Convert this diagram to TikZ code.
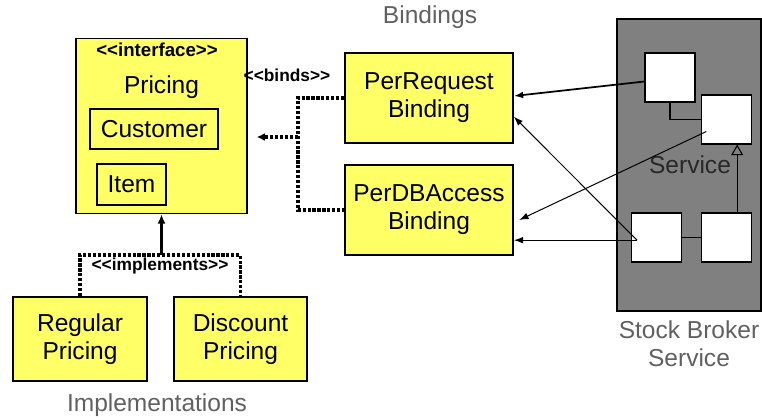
\documentclass[tikz,border=0pt]{standalone}
\usepackage{fontspec}
\setmainfont{Liberation Sans}
\usetikzlibrary{arrows.meta}
\usetikzlibrary{positioning}
\definecolor{umlyellow}{RGB}{255,255,102}
\definecolor{brokergray}{RGB}{128,128,128}
\definecolor{labelgray}{RGB}{96,96,96}

\tikzset{
  box/.style={draw, line width=1.2pt, fill=umlyellow, align=center,
    font=\fontsize{18.4}{21}\selectfont, inner sep=0pt},
  part/.style={draw, fill=white, line width=0.8pt, minimum width=37.5pt,
    minimum height=36.75pt, inner sep=0pt},
  dotline/.style={line width=2.4pt, dash pattern=on 2.4pt off 1.3pt},
  stereo/.style={font=\fontsize{13}{15}\selectfont\bfseries, inner sep=0pt},
  grouplabel/.style={text=labelgray, align=center, font=\fontsize{18.4}{21}\selectfont},
  callarrow/.style={line width=0.75pt, -{Latex[length=7pt,width=5pt]}},
}

\begin{document}
\begin{tikzpicture}[x=0.75pt, y=-0.75pt]
  \useasboundingbox (0,0) rectangle (762,419);

  % Interface
  \node[box, minimum width=128.25pt, minimum height=131.25pt] (pricing) at (161.5,126) {};
  \node[stereo, font=\fontsize{14}{16}\selectfont\bfseries] (iface) at (157,50) {<{}<interface>{}>};
  \node[font=\fontsize{18.4}{21}\selectfont] (pname) at (161.5,87) {Pricing};
  \node[box, minimum width=96pt, minimum height=30pt] (customer) at (154,129) {Customer};
  \node[box, minimum width=51.75pt, minimum height=30.75pt] (item) at (131.5,184.5) {Item};

  % Implementations
  \node[box, minimum width=100.5pt, minimum height=63pt] (regular) at (80,339) {Regular\\Pricing};
  \node[box, minimum width=100pt, minimum height=63pt] (discount) at (240.5,339) {Discount\\Pricing};
  \coordinate (impljoin) at (161.5,255);
  \draw[dotline] (regular.north) |- (impljoin) -| (discount.north);
  \draw[line width=2.4pt, -{Latex[length=7pt,width=6pt]}] (impljoin) -- (pricing.south);
  \node[stereo] (impl) at (160,266) {<{}<implements>{}>};
  \node[grouplabel] (impltext) at (157,405) {Implementations};

  % Bindings
  \node[box, minimum width=126pt, minimum height=67.5pt] (perreq) at (429,98) {PerRequest\\Binding};
  \node[box, minimum width=126pt, minimum height=67.5pt] (perdb) at (429,210) {PerDBAccess\\Binding};
  \node[grouplabel] (bindtext) at (430,17) {Bindings};
  \coordinate (bindjoin) at (298,137);
  \draw[dotline] (perreq.west) -| (bindjoin) |- (perdb.west);
  \draw[dotline, -{Latex[length=6pt,width=6pt]}] (bindjoin) -- ([xshift=6.75pt]pricing.east |- bindjoin);
  \node[stereo] (binds) at (287,75) {<{}<binds>{}>};

  % Stock broker service
  \node[draw, line width=1pt, fill=brokergray, minimum width=108pt, minimum height=219pt] (broker) at (689,165) {};
  \node[part] (tl) at (670,77.5) {};
  \node[part] (tr) at (726.5,119.5) {};
  \node[part] (bl) at (656.5,237.5) {};
  \node[part] (br) at (726.5,237.5) {};
  \node[text={rgb,255:red,40;green,40;blue,40}, font=\fontsize{18.4}{21}\selectfont] (svc) at (690,165) {Service};
  \draw[line width=0.8pt] (tl.south) |- (tr.west);
  \draw[line width=0.8pt] (bl) -- (br);
  \draw[line width=0.8pt, -{Triangle[open, length=8pt, width=9pt]}] ([xshift=8pt]br.north) -- ([xshift=8pt]tr.south);
  \node[grouplabel, below=3pt of broker] (brokertext) {Stock Broker\\Service};

  % Calls into the bindings
  \coordinate (blin) at ([xshift=4.5pt,yshift=-2pt]bl.west);
  \draw[callarrow, line width=1.3pt] ([yshift=-3pt]tl.west) -- ([yshift=1.5pt]perreq.east);
  \draw[callarrow] (blin) -- ([yshift=-14pt]perreq.east);
  \draw[callarrow] (blin) -- (blin -| perdb.east);
  \draw[callarrow] ([xshift=4pt,yshift=-9pt]tr.west) -- ([xshift=4pt,yshift=-7.5pt]perdb.east);
\end{tikzpicture}
\end{document}
